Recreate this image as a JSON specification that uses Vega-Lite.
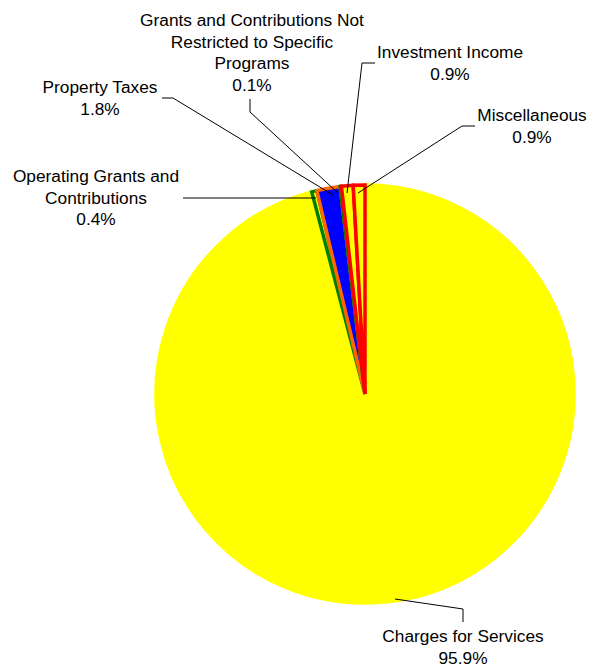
{
  "$schema": "https://vega.github.io/schema/vega-lite/v6.json",
  "width": 420,
  "height": 420,
  "autosize": {"type": "none"},
  "padding": {"left": 155, "top": 184, "right": 15, "bottom": 62},
  "background": "white",
  "config": {"view": {"stroke": null}},
  "datasets": {
    "slices": [
      {"category": "Charges for Services", "value": 95.9, "idx": 1},
      {"category": "Operating Grants and Contributions", "value": 0.4, "idx": 2},
      {"category": "Property Taxes", "value": 1.8, "idx": 3},
      {"category": "Grants and Contributions Not Restricted to Specific Programs", "value": 0.1, "idx": 4},
      {"category": "Investment Income", "value": 0.9, "idx": 5},
      {"category": "Miscellaneous", "value": 0.9, "idx": 6}
    ],
    "labels": [
      {"text": "Charges for Services\n95.9%", "x": 98, "y": -248},
      {"text": "Operating Grants and\nContributions\n0.4%", "x": -269, "y": 212},
      {"text": "Property Taxes\n1.8%", "x": -265, "y": 301},
      {"text": "Grants and Contributions Not\nRestricted to Specific\nPrograms\n0.1%", "x": -113, "y": 368},
      {"text": "Investment Income\n0.9%", "x": 85, "y": 336},
      {"text": "Miscellaneous\n0.9%", "x": 167, "y": 273}
    ],
    "leaders": [
      {"id": "Charges", "seq": 1, "x": 30, "y": -205},
      {"id": "Charges", "seq": 2, "x": 98, "y": -215},
      {"id": "Charges", "seq": 3, "x": 98, "y": -228},
      {"id": "Operating", "seq": 1, "x": -182, "y": 196},
      {"id": "Operating", "seq": 2, "x": -49, "y": 196},
      {"id": "Property", "seq": 1, "x": -203, "y": 296},
      {"id": "Property", "seq": 2, "x": -192, "y": 296},
      {"id": "Property", "seq": 3, "x": -32, "y": 199},
      {"id": "GrantsNR", "seq": 1, "x": -115, "y": 295},
      {"id": "GrantsNR", "seq": 2, "x": -115, "y": 282},
      {"id": "GrantsNR", "seq": 3, "x": -27, "y": 201},
      {"id": "Investment", "seq": 1, "x": 10, "y": 331},
      {"id": "Investment", "seq": 2, "x": -3, "y": 331},
      {"id": "Investment", "seq": 3, "x": -18, "y": 201},
      {"id": "Misc", "seq": 1, "x": 110, "y": 268},
      {"id": "Misc", "seq": 2, "x": 97, "y": 268},
      {"id": "Misc", "seq": 3, "x": -7, "y": 201}
    ]
  },
  "layer": [
    {
      "data": {"name": "slices"},
      "mark": {"type": "arc", "radius": 209, "strokeWidth": 3.5, "strokeJoin": "miter"},
      "encoding": {
        "theta": {"field": "value", "type": "quantitative", "stack": true},
        "order": {"field": "idx", "type": "quantitative"},
        "fill": {
          "field": "category", "type": "nominal", "legend": null,
          "scale": {
            "domain": ["Charges for Services", "Operating Grants and Contributions", "Property Taxes", "Grants and Contributions Not Restricted to Specific Programs", "Investment Income", "Miscellaneous"],
            "range": ["#FFFF00", "#FFFF00", "#0000FF", "#008000", "#FFFF00", "#FFFF00"]
          }
        },
        "stroke": {
          "field": "category", "type": "nominal", "legend": null,
          "scale": {
            "domain": ["Charges for Services", "Operating Grants and Contributions", "Property Taxes", "Grants and Contributions Not Restricted to Specific Programs", "Investment Income", "Miscellaneous"],
            "range": ["#FFFF00", "#008000", "#FF6600", "#008000", "#FF0000", "#FF0000"]
          }
        }
      }
    },
    {
      "data": {"name": "leaders"},
      "mark": {"type": "line", "color": "black", "strokeWidth": 1},
      "encoding": {
        "x": {"field": "x", "type": "quantitative", "axis": null, "scale": {"domain": [-210, 210], "nice": false, "zero": false}},
        "y": {"field": "y", "type": "quantitative", "axis": null, "scale": {"domain": [-210, 210], "nice": false, "zero": false}},
        "detail": {"field": "id", "type": "nominal"},
        "order": {"field": "seq", "type": "quantitative"}
      }
    },
    {
      "data": {"name": "labels"},
      "mark": {"type": "text", "font": "Liberation Sans", "fontSize": 17.3, "lineHeight": 21.5, "lineBreak": "\n", "align": "center", "baseline": "alphabetic", "color": "black"},
      "encoding": {
        "x": {"field": "x", "type": "quantitative", "axis": null, "scale": {"domain": [-210, 210], "nice": false, "zero": false}},
        "y": {"field": "y", "type": "quantitative", "axis": null, "scale": {"domain": [-210, 210], "nice": false, "zero": false}},
        "text": {"field": "text", "type": "nominal"}
      }
    }
  ]
}
